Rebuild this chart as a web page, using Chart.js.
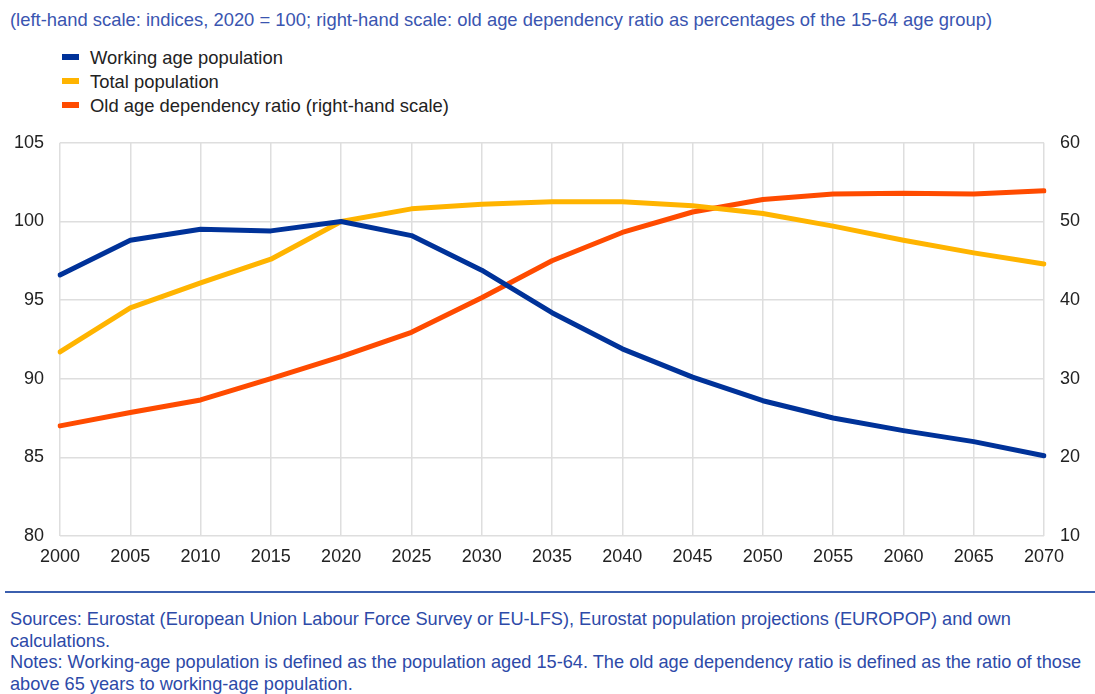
<!DOCTYPE html>
<html>
<head>
<meta charset="utf-8">
<script src="https://cdn.jsdelivr.net/npm/chart.js@4"></script>
<style>
    body { margin: 0; width: 1095px; height: 694px; background: #fff; font-family: "Liberation Sans", Arial, sans-serif; position: relative; overflow: hidden; }
    #subtitle { position: absolute; left: 10px; top: 9px; font-size: 18.4px; color: #3a55b0; white-space: nowrap; }
    #legend { position: absolute; left: 62px; top: 46px; font-size: 18.4px; color: #222; }
    .item { height: 24px; line-height: 24px; white-space: nowrap; }
    .swatch { display: inline-block; width: 17px; height: 6px; vertical-align: middle; margin-right: 11px; position: relative; top: -2px; }
    #chartBox { position: absolute; left: 0; top: 116px; width: 1095px; height: 460px; }
    #rule { position: absolute; left: 5px; right: 0; top: 591px; height: 2px; background: #3b5fae; }
    #notes { position: absolute; left: 10px; top: 609px; font-size: 18.2px; line-height: 21.5px; color: #2d4aa8; width: 1085px; }
</style>
</head>
<body>
<div id="subtitle">(left-hand scale: indices, 2020 = 100; right-hand scale: old age dependency ratio as percentages of the 15-64 age group)</div>
<div id="legend"></div>
<div id="chartBox"><canvas id="lineChart"></canvas></div>
<div id="rule"></div>
<div id="notes">Sources: Eurostat (European Union Labour Force Survey or EU-LFS), Eurostat population projections (EUROPOP) and own calculations.<br>Notes: Working-age population is defined as the population aged 15-64. The old age dependency ratio is defined as the ratio of those above 65 years to working-age population.</div>
<script>
const years = ['2000', '2005', '2010', '2015', '2020', '2025', '2030', '2035', '2040', '2045', '2050', '2055', '2060', '2065', '2070'];

const workingAgePopulation = [96.6, 98.8, 99.5, 99.4, 100, 99.1, 96.9, 94.2, 91.9, 90.1, 88.6, 87.5, 86.7, 86.0, 85.1];
const totalPopulation = [91.7, 94.5, 96.1, 97.6, 100, 100.8, 101.1, 101.25, 101.25, 101.0, 100.5, 99.7, 98.8, 98.0, 97.3];
const oldAgeDependencyRatio = [24.0, 25.7, 27.3, 30.0, 32.8, 35.9, 40.3, 45.0, 48.6, 51.2, 52.8, 53.5, 53.6, 53.5, 53.9];

const seriesLabels = ['Working age population', 'Total population', 'Old age dependency ratio (right-hand scale)'];
const seriesColors = ['#003299', '#ffb400', '#ff4b00'];

const leftTicks = [80, 85, 90, 95, 100, 105];
const rightTicks = [10, 20, 30, 40, 50, 60];

function buildLegend() {
    var legendBox = document.getElementById('legend');

    seriesLabels.forEach(function (label, i) {
        var item = document.createElement('div');
        item.className = 'item';
        item.innerHTML = '<span class="swatch" style="background:' + seriesColors[i] + '"></span>' + label;
        legendBox.appendChild(item);
    });
}

function GenerateLineChart() {
    var lineChartControl = document.getElementById('lineChart');

    var tickFont = { family: '"Liberation Sans", Arial, sans-serif', size: 18 };

    new Chart(lineChartControl, {
        type: 'line',
        data: {
            labels: years,
            datasets: [
                { label: seriesLabels[0], data: workingAgePopulation, borderColor: seriesColors[0], yAxisID: 'y' },
                { label: seriesLabels[1], data: totalPopulation, borderColor: seriesColors[1], yAxisID: 'y' },
                { label: seriesLabels[2], data: oldAgeDependencyRatio, borderColor: seriesColors[2], yAxisID: 'y1' }
            ]
        },
        options: {
            responsive: true,
            maintainAspectRatio: false,
            animation: false,
            layout: { padding: { top: 8, bottom: 0, left: 0, right: 0 } },
            elements: {
                line: { borderWidth: 5, tension: 0, borderCapStyle: 'round', borderJoinStyle: 'round' },
                point: { radius: 0 }
            },
            scales: {
                x: {
                    grid: { color: '#dedede', lineWidth: 1.5, drawTicks: false },
                    border: { display: false },
                    ticks: { color: '#222', font: tickFont, padding: 10, maxRotation: 0, autoSkip: false },
                    afterFit: function (scale) { scale.height = 40; }
                },
                y: {
                    position: 'left',
                    min: 80,
                    max: 105,
                    afterBuildTicks: function (scale) { scale.ticks = leftTicks.map(function (v) { return { value: v }; }); },
                    grid: { color: '#dedede', lineWidth: 1.5, drawTicks: false },
                    border: { display: false },
                    ticks: { color: '#222', font: tickFont, padding: 16 },
                    afterFit: function (scale) { scale.width = 60; }
                },
                y1: {
                    position: 'right',
                    min: 10,
                    max: 60,
                    afterBuildTicks: function (scale) { scale.ticks = rightTicks.map(function (v) { return { value: v }; }); },
                    grid: { display: false, drawTicks: false },
                    border: { display: false },
                    ticks: { color: '#222', font: tickFont, padding: 16 },
                    afterFit: function (scale) { scale.width = 51; }
                }
            },
            plugins: {
                legend: { display: false },
                tooltip: { enabled: false }
            }
        }
    });
}

buildLegend();
GenerateLineChart();
</script>
</body>
</html>
